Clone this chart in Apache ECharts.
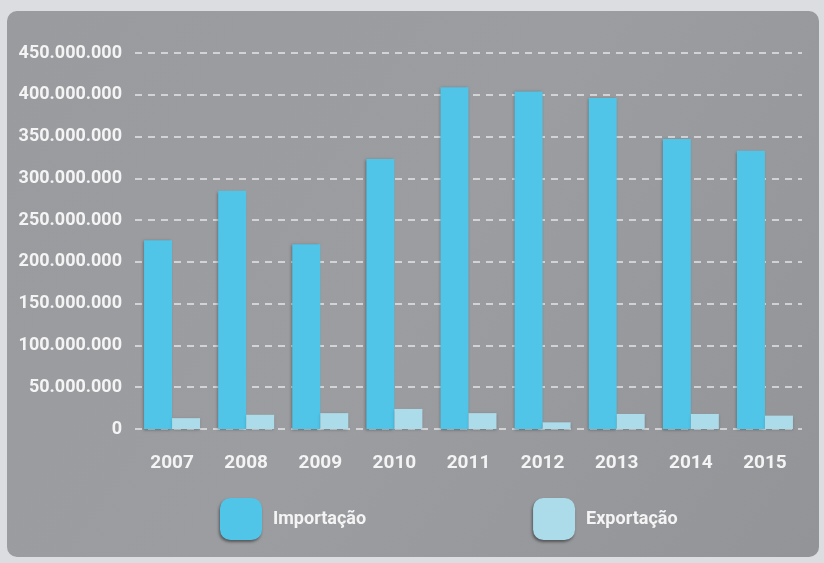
<!DOCTYPE html>
<html lang="pt">
<head>
  <meta charset="utf-8">
  <style>
    html, body { margin: 0; height: 100%; background: #dcdde0; }
    #chart { width: 824px; height: 563px; }
  </style>
</head>
<body>
  <div id="chart"></div>
  <script src="https://cdn.jsdelivr.net/npm/echarts@6/dist/echarts.min.js"></script>
  <script>
    // anos
    const anos = ['2007', '2008', '2009', '2010', '2011', '2012', '2013', '2014', '2015'];
    // valores
    const importacao = [226000000, 285000000, 221000000, 323000000, 409000000, 404000000, 396000000, 347000000, 333000000];
    const exportacao = [13000000, 17000000, 19000000, 24000000, 19000000, 8000000, 18000000, 18000000, 16000000];

    const fonte = "Roboto, 'Liberation Sans', sans-serif";

    function pontos(v) {
      return String(v).replace(/\B(?=(\d{3})+(?!\d))/g, '.');
    }

    var myChart = echarts.init(document.getElementById('chart'), null, { renderer: 'canvas' });

    var option = {
      backgroundColor: '#dcdde0',
      graphic: [
        {
          type: 'rect',
          z: -10,
          shape: { x: 7, y: 11, width: 812, height: 546, r: 10 },
          style: {
            fill: new echarts.graphic.LinearGradient(0, 0, 1, 1, [
              { offset: 0, color: '#9a9b9f' },
              { offset: 0.5, color: '#9c9da1' },
              { offset: 1, color: '#939498' }
            ])
          }
        }
      ],
      grid: {
        left: 135,
        right: 22,
        top: 53,
        bottom: 134
      },
      legend: {
        left: 215,
        top: 493,
        itemWidth: 42,
        itemHeight: 42,
        itemGap: 167,
        icon: 'roundRect',
        itemStyle: {
          shadowColor: 'rgba(0,0,0,0.45)',
          shadowBlur: 3,
          shadowOffsetX: -1,
          shadowOffsetY: 2
        },
        textStyle: {
          color: '#f4f4f4',
          fontFamily: fonte,
          fontWeight: 'bold',
          fontSize: 18,
          padding: [0, 0, 0, 6]
        },
        data: ['Importação', 'Exportação']
      },
      xAxis: {
        type: 'category',
        data: anos,
        axisLine: { show: false },
        axisTick: { show: false },
        axisLabel: {
          color: '#f4f4f4',
          fontFamily: fonte,
          fontWeight: 'bold',
          fontSize: 19,
          margin: 25
        }
      },
      yAxis: {
        type: 'value',
        min: 0,
        max: 450000000,
        interval: 50000000,
        axisLine: { show: false },
        axisTick: { show: false },
        axisLabel: {
          color: '#f4f4f4',
          fontFamily: fonte,
          fontWeight: 'bold',
          fontSize: 18,
          margin: 13,
          formatter: pontos
        },
        splitLine: {
          lineStyle: {
            color: 'rgba(255,255,255,0.75)',
            width: 1.5,
            type: [7, 6]
          }
        }
      },
      series: [
        {
          name: 'Importação',
          type: 'bar',
          data: importacao,
          barWidth: 28,
          barGap: '0%',
          itemStyle: {
            color: '#50c5e8',
            shadowColor: 'rgba(0,0,0,0.35)',
            shadowBlur: 3,
            shadowOffsetX: -1,
            shadowOffsetY: 1
          }
        },
        {
          name: 'Exportação',
          type: 'bar',
          data: exportacao,
          barWidth: 28,
          itemStyle: {
            color: '#acdcea',
            shadowColor: 'rgba(0,0,0,0.25)',
            shadowBlur: 3,
            shadowOffsetX: 0,
            shadowOffsetY: 1
          }
        }
      ]
    };

    myChart.setOption(option);
  </script>
</body>
</html>
